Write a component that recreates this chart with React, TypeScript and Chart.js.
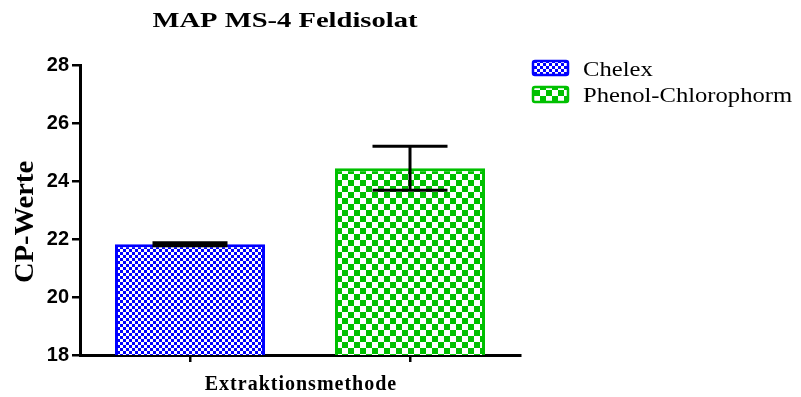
import { useEffect, useRef } from 'react';
import { Chart, registerables } from 'chart.js';

Chart.register(...registerables);

// Extraction methods and their mean CP values with error (SD)
const categories = ['Chelex', 'Phenol-Chlorophorm'];
const cpMeans = [21.82, 24.44];
const cpErrors = [0.05, 0.76];

// Y-axis range and tick step
const yMin = 18;
const yMax = 28;
const yStep = 2;

const chartTitle = 'MAP MS-4 Feldisolat';
const xAxisTitle = 'Extraktionsmethode';
const yAxisTitle = 'CP-Werte';

const barColors = ['#0000ff', '#00c000'];
const checkerSizes = [3, 6];

function makeChecker(color: string, size: number): CanvasPattern | string {
  const tile = document.createElement('canvas');
  tile.width = size * 2;
  tile.height = size * 2;
  const c = tile.getContext('2d');
  if (!c) return color;
  c.fillStyle = '#ffffff';
  c.fillRect(0, 0, size * 2, size * 2);
  c.fillStyle = color;
  c.fillRect(0, 0, size, size);
  c.fillRect(size, size, size, size);
  return c.createPattern(tile, 'repeat') || color;
}

// Draw text with a horizontal stretch factor
function stretchedText(
  ctx: CanvasRenderingContext2D,
  text: string,
  x: number,
  y: number,
  font: string,
  sx: number,
  align: 'left' | 'center',
  spacing = '0px'
) {
  ctx.save();
  ctx.font = font;
  (ctx as any).letterSpacing = spacing;
  ctx.textBaseline = 'alphabetic';
  ctx.textAlign = 'left';
  ctx.fillStyle = '#000000';
  const w = ctx.measureText(text).width * sx;
  ctx.translate(align === 'center' ? x - w / 2 : x, y);
  ctx.scale(sx, 1);
  ctx.fillText(text, 0, 0);
  ctx.restore();
}

export default function App() {
  const canvasRef = useRef<HTMLCanvasElement | null>(null);

  useEffect(() => {
    const canvas = canvasRef.current;
    if (!canvas) return;
    const patterns = barColors.map((c, i) => makeChecker(c, checkerSizes[i]));

    const errorBars = {
      id: 'errorBars',
      afterDatasetsDraw(chart: any) {
        const { ctx, scales } = chart;
        const y = scales.y;
        const meta = chart.getDatasetMeta(0);
        meta.data.forEach((bar: any, i: number) => {
          const { x, width } = bar.getProps(['x', 'width'], true);
          const half = width / 4;
          const top = y.getPixelForValue(cpMeans[i] + cpErrors[i]);
          const bot = y.getPixelForValue(cpMeans[i] - cpErrors[i]);
          ctx.save();
          ctx.strokeStyle = '#000000';
          ctx.lineWidth = 3;
          ctx.beginPath();
          ctx.moveTo(x, top);
          ctx.lineTo(x, bot);
          ctx.moveTo(x - half, top);
          ctx.lineTo(x + half, top);
          ctx.moveTo(x - half, bot);
          ctx.lineTo(x + half, bot);
          ctx.stroke();
          ctx.restore();
        });
      },
    };

    const decorations = {
      id: 'decorations',
      afterDraw(chart: any) {
        const { ctx, chartArea } = chart;
        // Chart title
        stretchedText(ctx, chartTitle, 285, 27, 'bold 21px "Liberation Serif"', 1.36, 'center');
        // X-axis title
        stretchedText(
          ctx,
          xAxisTitle,
          (chartArea.left + chartArea.right) / 2 + 1,
          390,
          'bold 20px "Liberation Serif"',
          1.0,
          'center',
          '1px'
        );
        // Y-axis title (rotated)
        ctx.save();
        ctx.translate(33, 222);
        ctx.rotate(-Math.PI / 2);
        stretchedText(ctx, yAxisTitle, 0, 0, 'bold 28px "Liberation Serif"', 1.02, 'center');
        ctx.restore();
        // Legend
        const boxX = 532;
        const boxW = 37;
        const rows = [
          { top: 60, h: 16, base: 76 },
          { top: 86, h: 17, base: 102 },
        ];
        categories.forEach((name, i) => {
          const r = rows[i];
          ctx.save();
          ctx.beginPath();
          (ctx as any).roundRect(boxX + 1, r.top + 1, boxW - 2, r.h - 2, 2);
          ctx.fillStyle = patterns[i];
          ctx.fill();
          ctx.lineWidth = 2.5;
          ctx.strokeStyle = barColors[i];
          ctx.stroke();
          ctx.restore();
          stretchedText(ctx, name, 583, r.base, '20px "Liberation Serif"', 1.23, 'left');
        });
      },
    };

    const chart = new Chart(canvas, {
      type: 'bar',
      data: {
        labels: categories,
        datasets: [
          {
            label: yAxisTitle,
            data: cpMeans,
            backgroundColor: patterns as any,
            borderColor: barColors,
            borderWidth: 3,
            borderSkipped: 'start',
            categoryPercentage: 1,
            barPercentage: 0.682,
          },
        ],
      },
      options: {
        animation: false,
        responsive: false,
        devicePixelRatio: 1,
        layout: { padding: { top: 65, right: 281, bottom: 0, left: 0 } },
        plugins: {
          legend: { display: false },
          title: { display: false },
          tooltip: { enabled: false },
        },
        scales: {
          x: {
            offset: true,
            grid: {
              offset: false,
              drawOnChartArea: false,
              drawTicks: true,
              tickLength: 7,
              color: '#000000',
              lineWidth: 2.5,
            },
            border: { display: true, color: '#000000', width: 3 },
            ticks: { display: false },
            afterFit(scale: any) {
              scale.height = 42;
            },
          },
          y: {
            min: yMin,
            max: yMax,
            grid: {
              drawOnChartArea: false,
              drawTicks: true,
              tickLength: 8,
              color: '#000000',
              lineWidth: 2.5,
            },
            border: { display: true, color: '#000000', width: 3 },
            ticks: {
              stepSize: yStep,
              padding: 3,
              color: '#000000',
              font: { family: '"Liberation Sans", Arial, sans-serif', size: 20, weight: 'bold' },
            },
            afterFit(scale: any) {
              scale.width = 80;
            },
          },
        },
      },
      plugins: [errorBars, decorations],
    });

    return () => chart.destroy();
  }, []);

  return (
    <div style={{ position: 'absolute', left: 0, top: 0, width: 801, height: 397, background: '#ffffff' }}>
      <canvas ref={canvasRef} width={801} height={397} style={{ display: 'block' }} />
    </div>
  );
}
